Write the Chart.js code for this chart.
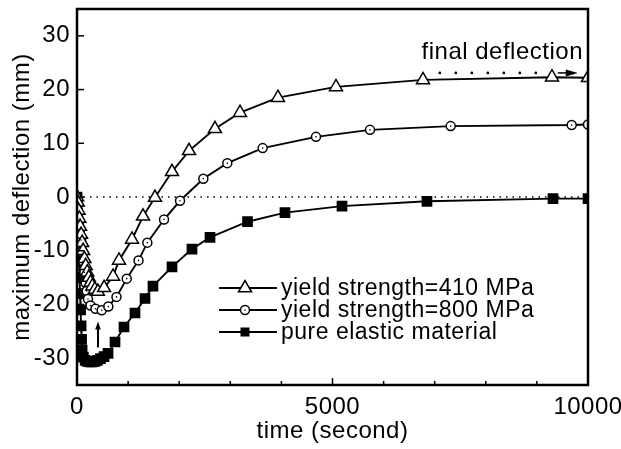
<!DOCTYPE html>
<html><head><meta charset="utf-8">
<script src="https://cdn.jsdelivr.net/npm/chart.js@4.4.0/dist/chart.umd.min.js"></script>
<style>html,body{margin:0;padding:0;background:#fff;}#wrap{width:621px;height:449px;}</style>
</head><body><div id="wrap"><canvas id="c" width="621" height="449"></canvas></div>
<script>
// ---- data ----
const t410 = [0, 15, 30, 45, 60, 80, 100, 120, 145, 170, 200, 230, 265, 300, 350, 410, 530, 705, 822, 1076, 1292, 1526, 1859, 2192, 2700, 3190, 3933, 5068, 6771, 9295, 10000];
const y410 = [0, -1, -2.5, -4, -5.5, -7, -8.5, -10, -11.5, -12.8, -14, -15, -15.9, -16.6, -17.2, -17.6, -16.9, -14.8, -11.8, -7.9, -3.6, -0.1, 4.7, 8.6, 12.7, 15.7, 18.5, 20.5, 21.8, 22.3, 22.2];
const t800 = [0, 15, 30, 45, 60, 80, 100, 120, 145, 170, 190, 215, 264, 362, 483, 613, 773, 973, 1204, 1376, 1703, 2016, 2472, 2941, 3634, 4677, 5734, 7313, 9681, 10000];
const y800 = [0, -1.5, -3, -4.5, -6, -8, -10, -12, -14, -16, -17.5, -19, -20.2, -20.8, -21.1, -20.4, -18.6, -15.2, -11.8, -8.5, -4.2, -0.7, 3.4, 6.3, 9.1, 11.2, 12.5, 13.2, 13.4, 13.5];
const tElastic = [0, 10, 20, 30, 40, 50, 60, 70, 80, 90, 100, 125, 160, 200, 250, 300, 350, 400, 460, 530, 607, 744, 920, 1135, 1331, 1487, 1859, 2250, 2603, 3337, 4070, 5186, 6849, 9315, 10000];
const yElastic = [0, -3, -6, -9, -12, -15, -18, -21, -24, -26.5, -28.5, -29.8, -30.4, -30.6, -30.7, -30.7, -30.6, -30.4, -30.1, -29.7, -29.1, -27.0, -24.2, -21.6, -18.9, -16.6, -13.0, -9.7, -7.5, -4.6, -2.9, -1.7, -0.8, -0.3, -0.3];
const seriesLabels = ['yield strength=410 MPa', 'yield strength=800 MPa', 'pure elastic material'];
const xTickValues = [0, 5000, 10000];
const xMinorTickValues = [1000, 2000, 3000, 4000, 6000, 7000, 8000, 9000];
const yTickValues = [-30, -20, -10, 0, 10, 20, 30];
const annotationText = 'final deflection';
const finalArrow = {from: 7100, to: 9800, value: 23.1};
const minArrow = {time: 411, from: -28, to: -23.2};

const FONT = '"Liberation Sans", Arial, Helvetica, sans-serif';
Chart.defaults.font.family = FONT;
Chart.defaults.color = '#000';
const pts = (xs, ys) => xs.map((x, i) => ({x, y: ys[i]}));

function marker(ctx, style, x, y) {
  ctx.save();
  ctx.lineWidth = 1.5; ctx.strokeStyle = '#000';
  ctx.beginPath();
  if (style === 'triangle') {
    const r = 7.5;
    ctx.moveTo(x, y - r);
    ctx.lineTo(x + r * Math.sin(2 * Math.PI / 3), y - r * Math.cos(2 * Math.PI / 3));
    ctx.lineTo(x + r * Math.sin(4 * Math.PI / 3), y - r * Math.cos(4 * Math.PI / 3));
    ctx.closePath(); ctx.fillStyle = '#fff'; ctx.fill(); ctx.stroke();
  } else if (style === 'circle') {
    ctx.arc(x, y, 4.5, 0, Math.PI * 2); ctx.fillStyle = '#fff'; ctx.fill(); ctx.stroke();
    ctx.beginPath(); ctx.arc(x, y, 0.8, 0, Math.PI * 2); ctx.fillStyle = '#000'; ctx.fill();
  } else {
    ctx.fillStyle = '#000'; ctx.fillRect(x - 4.5, y - 4.5, 9, 9);
  }
  ctx.restore();
}

const decor = {
  id: 'decor',
  beforeDraw(chart) { chart.ctx.letterSpacing = '0.5px'; },
  beforeDatasetsDraw(chart) {
    const {ctx, chartArea: a, scales: {y}} = chart;
    ctx.save();
    ctx.strokeStyle = '#000'; ctx.lineWidth = 1.5; ctx.setLineDash([1.5, 5]);
    const py = y.getPixelForValue(0);
    ctx.beginPath(); ctx.moveTo(a.left, py); ctx.lineTo(a.right, py); ctx.stroke();
    ctx.restore();
  },
  afterDraw(chart) {
    const {ctx, chartArea: a, scales: {x, y}} = chart;
    ctx.save();
    ctx.strokeStyle = '#000'; ctx.fillStyle = '#000';
    ctx.lineWidth = 2.5;
    ctx.strokeRect(a.left, a.top, a.right - a.left, a.bottom - a.top);
    ctx.lineWidth = 1.5;
    y.ticks.forEach(t => { const p = y.getPixelForValue(t.value); ctx.beginPath(); ctx.moveTo(a.left, p); ctx.lineTo(a.left + 7, p); ctx.stroke(); });
    x.ticks.forEach(t => { const p = x.getPixelForValue(t.value); ctx.beginPath(); ctx.moveTo(p, a.bottom); ctx.lineTo(p, a.bottom - 7); ctx.stroke(); });
    xMinorTickValues.forEach(v => { const p = x.getPixelForValue(v); ctx.beginPath(); ctx.moveTo(p, a.bottom); ctx.lineTo(p, a.bottom - 4); ctx.stroke(); });

    // legend
    const styles = ['triangle', 'circle', 'rect'];
    const rows = [288, 310, 332];
    ctx.font = '23px ' + FONT; ctx.textBaseline = 'alphabetic'; ctx.textAlign = 'left';
    rows.forEach((ry, i) => {
      ctx.lineWidth = 1.8; ctx.beginPath(); ctx.moveTo(219, ry); ctx.lineTo(277, ry); ctx.stroke();
      marker(ctx, styles[i], 245, ry);
      ctx.fillStyle = '#000'; ctx.fillText(seriesLabels[i], 281, ry + 7.4);
    });

    // final deflection annotation
    ctx.font = '24px ' + FONT; ctx.textAlign = 'right';
    ctx.fillText(annotationText, x.getPixelForValue(9902), y.getPixelForValue(25.7));
    const ay = y.getPixelForValue(finalArrow.value);
    const ax0 = x.getPixelForValue(finalArrow.from), ax1 = x.getPixelForValue(finalArrow.to);
    for (let px = ax0; px < ax1 - 30; px += 16) { ctx.beginPath(); ctx.arc(px, ay, 1.4, 0, Math.PI * 2); ctx.fill(); }
    ctx.lineWidth = 1.5; ctx.beginPath(); ctx.moveTo(ax1 - 20, ay); ctx.lineTo(ax1 - 10, ay); ctx.stroke();
    ctx.beginPath(); ctx.moveTo(ax1 - 12, ay - 3.5); ctx.lineTo(ax1, ay); ctx.lineTo(ax1 - 12, ay + 3.5); ctx.closePath(); ctx.fill();

    // arrow at minimum
    const mx = x.getPixelForValue(minArrow.time);
    const my0 = y.getPixelForValue(minArrow.from), my1 = y.getPixelForValue(minArrow.to);
    ctx.lineWidth = 2; ctx.beginPath(); ctx.moveTo(mx, my0); ctx.lineTo(mx, my1 + 6); ctx.stroke();
    ctx.beginPath(); ctx.moveTo(mx - 2.8, my1 + 8); ctx.lineTo(mx, my1); ctx.lineTo(mx + 2.8, my1 + 8); ctx.closePath(); ctx.fill();
    ctx.restore();
  }
};

const lineDs = (label, data, style, radius, bg) => ({
  label, data, showLine: true, borderColor: '#000', borderWidth: 1.9, tension: 0,
  pointStyle: style, pointRadius: radius, pointHoverRadius: radius,
  pointBackgroundColor: bg, pointBorderColor: '#000', pointBorderWidth: 1.5
});

new Chart(document.getElementById('c'), {
  type: 'scatter',
  data: {
    datasets: [
      Object.assign(lineDs(seriesLabels[0], pts(t410, y410), 'triangle', 7.5, '#fff'), {order: 1}),
      Object.assign(lineDs(seriesLabels[1], pts(t800, y800), 'circle', 4.5, '#fff'), {order: 2}),
      {label: 'dots', data: pts(t800, y800), showLine: false, pointRadius: 0.8, pointBackgroundColor: '#000', pointBorderWidth: 0, order: 0},
      Object.assign(lineDs(seriesLabels[2], pts(tElastic, yElastic), 'rect', 6.5, '#000'), {order: 3})
    ]
  },
  options: {
    responsive: false, animation: false, devicePixelRatio: 1,
    layout: {padding: {left: 0, right: 33, top: 8, bottom: 0}},
    plugins: {legend: {display: false}, tooltip: {enabled: false}},
    scales: {
      x: {
        type: 'linear', min: 0, max: 10000,
        afterBuildTicks: s => { s.ticks = xTickValues.map(v => ({value: v})); },
        grid: {display: false, drawTicks: false}, border: {display: false},
        ticks: {font: {size: 24}, color: '#000', padding: 8, maxRotation: 0, autoSkip: false, callback: v => String(v)},
        title: {display: true, text: 'time (second)', font: {size: 24}, color: '#000', padding: {top: 0, bottom: 3}},
        afterFit: s => { s.height = 64; s.paddingLeft = 0; s.paddingRight = 0; }
      },
      y: {
        type: 'linear', min: -35, max: 35,
        afterBuildTicks: s => { s.ticks = yTickValues.map(v => ({value: v})); },
        grid: {display: false, drawTicks: false}, border: {display: false},
        ticks: {font: {size: 24}, color: '#000', padding: 7, autoSkip: false, callback: v => String(v)},
        title: {display: true, text: 'maximum deflection (mm)', font: {size: 24}, color: '#000', padding: {top: 8, bottom: 0}},
        afterFit: s => { s.width = 77; s.paddingTop = 0; s.paddingBottom = 0; }
      }
    }
  },
  plugins: [decor]
});
</script></body></html>
